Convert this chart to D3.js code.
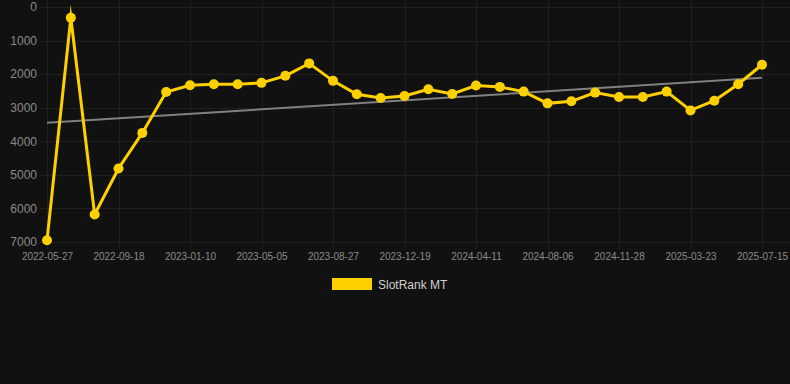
<!DOCTYPE html>
<html>
<head>
<meta charset="utf-8">
<script src="https://cdn.jsdelivr.net/npm/d3@7"></script>
<style>
  html, body { margin: 0; padding: 0; background: #111111; }
  svg { display: block; font-family: 'Liberation Sans', Arial, sans-serif; }
</style>
</head>
<body>
<div id="chart"></div>
<script>
// data
const dates = [
  '2022-05-27', '2022-07-04', '2022-08-11', '2022-09-18', '2022-10-26', '2022-12-03',
  '2023-01-10', '2023-02-17', '2023-03-28', '2023-05-05', '2023-06-12', '2023-07-20',
  '2023-08-27', '2023-10-04', '2023-11-11', '2023-12-19', '2024-01-26', '2024-03-04',
  '2024-04-11', '2024-05-19', '2024-06-28', '2024-08-06', '2024-09-13', '2024-10-21',
  '2024-11-28', '2025-01-05', '2025-02-13', '2025-03-23', '2025-04-30', '2025-06-07',
  '2025-07-15'
];
const rankValues = [
  6950, 320, 6180, 4810, 3750, 2530,
  2330, 2300, 2300, 2260, 2050, 1680,
  2200, 2600, 2710, 2650, 2450, 2590,
  2340, 2380, 2520, 2870, 2810, 2550,
  2680, 2680, 2520, 3080, 2790, 2300,
  1720
];
const trendValues = [3450, 2110]; // start / end of the trend line
const yTicks = [0, 1000, 2000, 3000, 4000, 5000, 6000, 7000];
const seriesName = 'SlotRank MT';

const width = 790, height = 384;
const gold = '#FFD000';

const svg = d3.select('#chart').append('svg')
    .attr('width', width)
    .attr('height', height);

svg.append('rect').attr('width', width).attr('height', height).attr('fill', '#111111');

const x = d3.scalePoint().domain(dates).range([47, 762]);
const y = d3.scaleLinear().domain([0, 7000]).range([7, 242]);

const xLabels = dates.filter((d, i) => i % 3 === 0);

// grid
const grid = svg.append('g').attr('stroke', '#202020').attr('stroke-width', 1);
grid.selectAll('line.h')
  .data(yTicks)
  .join('line')
    .attr('class', 'h')
    .attr('x1', 40).attr('x2', width)
    .attr('y1', d => Math.round(y(d)) + 0.5)
    .attr('y2', d => Math.round(y(d)) + 0.5);
grid.selectAll('line.v')
  .data(xLabels)
  .join('line')
    .attr('class', 'v')
    .attr('x1', d => Math.round(x(d)) + 0.5)
    .attr('x2', d => Math.round(x(d)) + 0.5)
    .attr('y1', 0).attr('y2', 249);

// y axis
const yAxis = svg.append('g')
    .attr('transform', 'translate(37,0)')
    .call(d3.axisLeft(y).tickValues(yTicks).tickSize(0).tickPadding(0).tickFormat(d3.format('d')));
yAxis.select('.domain').remove();
yAxis.selectAll('text').attr('fill', '#8a8a8a').attr('font-size', 12);

// x axis
const xAxis = svg.append('g')
    .attr('transform', 'translate(0,253)')
    .call(d3.axisBottom(x).tickValues(xLabels).tickSize(0).tickPadding(0));
xAxis.select('.domain').remove();
xAxis.selectAll('text').attr('fill', '#8a8a8a').attr('font-size', 10);

// trend line
const trendX = [dates[0], dates[dates.length - 1]];
svg.append('path')
    .datum(trendValues)
    .attr('fill', 'none')
    .attr('stroke', '#808080')
    .attr('stroke-width', 2)
    .attr('d', d3.line().x((d, i) => x(trendX[i])).y(d => y(d)));

// series
svg.append('path')
    .datum(rankValues)
    .attr('fill', 'none')
    .attr('stroke', gold)
    .attr('stroke-width', 3)
    .attr('stroke-linejoin', 'miter')
    .attr('stroke-miterlimit', 10)
    .attr('d', d3.line().x((d, i) => x(dates[i])).y(d => y(d)));

svg.append('g')
    .selectAll('circle')
    .data(rankValues)
    .join('circle')
    .attr('cx', (d, i) => x(dates[i]))
    .attr('cy', d => y(d))
    .attr('r', 5)
    .attr('fill', gold);

// legend
const legend = svg.append('g').attr('transform', 'translate(332,278)');
legend.append('rect').attr('width', 40).attr('height', 12).attr('fill', gold);
legend.append('text')
    .attr('x', 46).attr('y', 10.5)
    .attr('fill', '#d0d0d0')
    .attr('font-size', 12)
    .text(seriesName);
</script>
</body>
</html>
